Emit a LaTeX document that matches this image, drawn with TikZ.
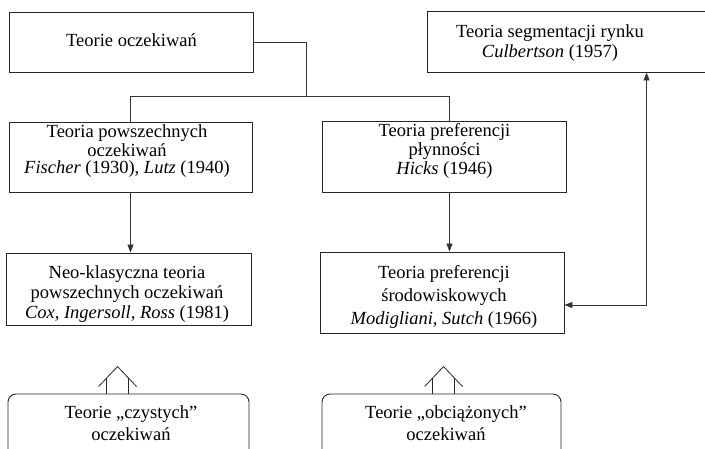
\documentclass[tikz,border=0pt]{standalone}
\usepackage{fontspec}
\setmainfont{Liberation Serif}
\usetikzlibrary{arrows.meta,calc}
\begin{document}
\begin{tikzpicture}[x=1pt,y=-1pt,
 box/.style={draw=black!85,line width=0.9pt,inner sep=0pt},
 rbox/.style={box,rounded corners=8pt},
 txt/.style={align=center,inner sep=0pt,font=\rmfamily\fontsize{18.5}{16}\selectfont},
 conn/.style={draw=black!80,line width=0.7pt},
 arr/.style={conn,-{Triangle[length=8pt,width=6pt]}},
 darr/.style={conn,{Triangle[length=8pt,width=6pt]}-{Triangle[length=8pt,width=6pt]}},
 hollow/.style={draw=black!85,line width=0.8pt}]
\clip (0,0) rectangle (705,449);
% boxes
\node[box,minimum width=244pt,minimum height=60pt] (b1) at (131,42) {};
\node[box,minimum width=285pt,minimum height=61pt] (b2) at (569.5,41.5) {};
\node[box,minimum width=243pt,minimum height=70pt] (b3) at (130.5,157) {};
\node[box,minimum width=244pt,minimum height=71pt] (b4) at (444,156.5) {};
\node[box,minimum width=245pt,minimum height=72pt] (b5) at (128.5,289) {};
\node[box,minimum width=244pt,minimum height=81pt] (b6) at (442,292.5) {};
\node[rbox,minimum width=241pt,minimum height=76pt] (r1) at (128.5,432) {};
\node[rbox,minimum width=239pt,minimum height=76pt] (r2) at (441.5,432) {};
% texts
\node[txt] (t1) at (131.5,40) {Teorie oczekiwań};
\node[txt] (t2) at (550,43) {Teoria segmentacji rynku\\[3pt]\textit{Culbertson} (1957)};
\node[txt] (t3) at (127,151) {Teoria powszechnych\\[1.5pt]oczekiwań\\[1.5pt]\textit{Fischer} (1930), \textit{Lutz} (1940)};
\node[txt] (t4) at (444.5,151) {Teoria preferencji\\[1.5pt]płynności\\[1.5pt]\textit{Hicks} (1946)};
\node[txt] (t5) at (127,294) {Neo-klasyczna teoria\\[2pt]powszechnych oczekiwań\\[2pt]\textit{Cox, Ingersoll, Ross} (1981)};
\node[txt] (t6) at (444,297) {Teoria preferencji\\[5pt]środowiskowych\\[5pt]\textit{Modigliani, Sutch} (1966)};
\node[txt] (tr1) at (131,423) {Teorie „czystych”\\[4pt]oczekiwań};
\node[txt] (tr2) at (446,423) {Teorie „obciążonych”\\[4pt]oczekiwań};
% connectors
\coordinate (j) at (306,96);
\draw[conn] (b1.east) -| (j);
\draw[conn] (b3.north) |- (j);
\draw[conn] (j) -| ($(b4.north)+(5,0)$);
\draw[arr] (b3.south) -- (b3.south |- b5.north);
\draw[arr] ($(b4.south)+(5.5,0)$) coordinate (p) -- (p |- b6.north);
\coordinate (q) at ($(b2.south west)+(220,0)$);
\draw[darr] (q) |- ($(b6.east)+(0,12.5)$);
% hollow arrows
\coordinate (h1) at ($(r1.north west)+(110,0)$);
\coordinate (h2) at ($(r2.north west)+(122,0)$);
\foreach \h in {h1,h2}{
  \draw[hollow] ($(\h)+(-19,-7)$) -- ($(\h)+(0,-27)$) -- ($(\h)+(19,-7)$);
  \draw[hollow] ($(\h)+(-11,0)$) -- ++(0,-15.4);
  \draw[hollow] ($(\h)+(11,0)$) -- ++(0,-15.4);
}
\end{tikzpicture}
\end{document}
